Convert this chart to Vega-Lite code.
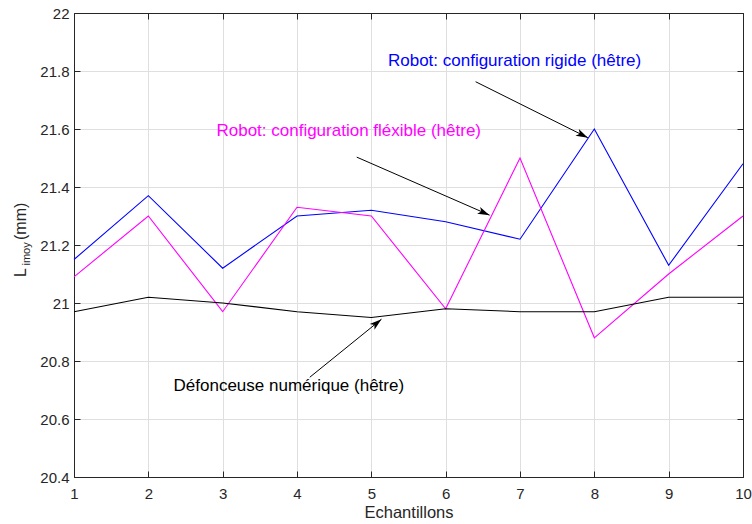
{
  "$schema": "https://vega.github.io/schema/vega-lite/v6.json",
  "width": 669,
  "height": 464,
  "autosize": "none",
  "padding": {"left": 74, "top": 13, "right": 9, "bottom": 47},
  "background": "#ffffff",
  "config": {
    "view": {"stroke": "#262626", "strokeWidth": 1},
    "font": "Liberation Sans",
    "axis": {
      "domainColor": "#262626",
      "tickColor": "#262626",
      "labelColor": "#262626",
      "titleColor": "#262626",
      "labelFont": "Liberation Sans",
      "titleFont": "Liberation Sans",
      "labelFontSize": 15,
      "titleFontSize": 16.5,
      "titleFontWeight": "normal",
      "gridColor": "#dfdfdf",
      "gridWidth": 1,
      "tickSize": -6,
      "tickWidth": 1,
      "labelFlush": false
    }
  },
  "datasets": {
    "series": [
      {"x": 1, "y": 21.15, "s": "rigide"}, {"x": 2, "y": 21.37, "s": "rigide"}, {"x": 3, "y": 21.12, "s": "rigide"}, {"x": 4, "y": 21.30, "s": "rigide"}, {"x": 5, "y": 21.32, "s": "rigide"},
      {"x": 6, "y": 21.28, "s": "rigide"}, {"x": 7, "y": 21.22, "s": "rigide"}, {"x": 8, "y": 21.60, "s": "rigide"}, {"x": 9, "y": 21.13, "s": "rigide"}, {"x": 10, "y": 21.48, "s": "rigide"},
      {"x": 1, "y": 21.09, "s": "flexible"}, {"x": 2, "y": 21.30, "s": "flexible"}, {"x": 3, "y": 20.97, "s": "flexible"}, {"x": 4, "y": 21.33, "s": "flexible"}, {"x": 5, "y": 21.30, "s": "flexible"},
      {"x": 6, "y": 20.98, "s": "flexible"}, {"x": 7, "y": 21.50, "s": "flexible"}, {"x": 8, "y": 20.88, "s": "flexible"}, {"x": 9, "y": 21.10, "s": "flexible"}, {"x": 10, "y": 21.30, "s": "flexible"},
      {"x": 1, "y": 20.97, "s": "defonceuse"}, {"x": 2, "y": 21.02, "s": "defonceuse"}, {"x": 3, "y": 21.00, "s": "defonceuse"}, {"x": 4, "y": 20.97, "s": "defonceuse"}, {"x": 5, "y": 20.95, "s": "defonceuse"},
      {"x": 6, "y": 20.98, "s": "defonceuse"}, {"x": 7, "y": 20.97, "s": "defonceuse"}, {"x": 8, "y": 20.97, "s": "defonceuse"}, {"x": 9, "y": 21.02, "s": "defonceuse"}, {"x": 10, "y": 21.02, "s": "defonceuse"}
    ],
    "arrows": [
      {"id": "rigide", "x1": 6.403, "y1": 21.763, "x2": 7.913, "y2": 21.570},
      {"id": "flexible", "x1": 4.804, "y1": 21.503, "x2": 6.591, "y2": 21.303},
      {"id": "defonceuse", "x1": 4.172, "y1": 20.744, "x2": 5.136, "y2": 20.944}
    ],
    "labels": [
      {"s": "rigide", "x": 6.927, "y": 21.834, "text": "Robot: configuration rigide (hêtre)"},
      {"s": "flexible", "x": 4.696, "y": 21.593, "text": "Robot: configuration fléxible (hêtre)"},
      {"s": "defonceuse", "x": 3.890, "y": 20.714, "text": "Défonceuse numérique (hêtre)"}
    ]
  },
  "resolve": {"axis": {"x": "independent", "y": "independent"}},
  "layer": [
    {
      "data": {"name": "series"},
      "mark": {"type": "line", "strokeWidth": 1.1},
      "encoding": {
        "x": {"field": "x", "type": "quantitative", "scale": {"domain": [1, 10], "nice": false},
              "axis": {"values": [1,2,3,4,5,6,7,8,9,10], "title": "Echantillons", "labelPadding": 15, "titlePadding": 3, "grid": true}},
        "y": {"field": "y", "type": "quantitative", "scale": {"domain": [20.4, 22], "nice": false, "zero": false},
              "axis": {"values": [20.4,20.6,20.8,21,21.2,21.4,21.6,21.8,22], "format": "~g", "title": null, "labelPadding": 11, "grid": true}},
        "color": {"field": "s", "type": "nominal", "legend": null,
                  "scale": {"domain": ["rigide", "flexible", "defonceuse"], "range": ["#0000ff", "#ff00ff", "#000000"]}},
        "detail": {"field": "s"}
      }
    },
    {
      "data": {"name": "arrows"},
      "mark": {"type": "rule", "color": "#000000", "strokeWidth": 1},
      "encoding": {
        "x": {"field": "x1", "type": "quantitative", "axis": {"orient": "top", "labels": false, "title": null, "grid": false, "values": [1,2,3,4,5,6,7,8,9,10]}},
        "y": {"field": "y1", "type": "quantitative", "axis": {"orient": "right", "labels": false, "title": null, "grid": false, "values": [20.4,20.6,20.8,21,21.2,21.4,21.6,21.8,22]}},
        "x2": {"field": "x2"},
        "y2": {"field": "y2"}
      }
    },
    {
      "data": {"name": "arrows"},
      "transform": [{"filter": "datum.id == 'rigide'"}],
      "mark": {"type": "point", "shape": "M0,0L-0.75,2.4L0,1.8L0.75,2.4Z", "size": 100, "filled": true, "color": "#000000", "opacity": 1, "angle": 116.5},
      "encoding": {
        "x": {"field": "x2", "type": "quantitative", "axis": null},
        "y": {"field": "y2", "type": "quantitative", "axis": null}
      }
    },
    {
      "data": {"name": "arrows"},
      "transform": [{"filter": "datum.id == 'flexible'"}],
      "mark": {"type": "point", "shape": "M0,0L-0.75,2.4L0,1.8L0.75,2.4Z", "size": 100, "filled": true, "color": "#000000", "opacity": 1, "angle": 113.6},
      "encoding": {
        "x": {"field": "x2", "type": "quantitative", "axis": null},
        "y": {"field": "y2", "type": "quantitative", "axis": null}
      }
    },
    {
      "data": {"name": "arrows"},
      "transform": [{"filter": "datum.id == 'defonceuse'"}],
      "mark": {"type": "point", "shape": "M0,0L-0.75,2.4L0,1.8L0.75,2.4Z", "size": 100, "filled": true, "color": "#000000", "opacity": 1, "angle": 51},
      "encoding": {
        "x": {"field": "x2", "type": "quantitative", "axis": null},
        "y": {"field": "y2", "type": "quantitative", "axis": null}
      }
    },
    {
      "data": {"name": "labels"},
      "mark": {"type": "text", "fontSize": 17, "font": "Liberation Sans", "align": "center", "baseline": "middle"},
      "encoding": {
        "x": {"field": "x", "type": "quantitative", "axis": null},
        "y": {"field": "y", "type": "quantitative", "axis": null},
        "text": {"field": "text"},
        "color": {"field": "s", "type": "nominal", "legend": null}
      }
    },
    {
      "data": {"values": [{"t": "L"}]},
      "mark": {"type": "text", "fontSize": 16, "font": "Liberation Sans", "angle": 270, "align": "left", "baseline": "alphabetic", "color": "#262626"},
      "encoding": {
        "x": {"datum": 0.348, "type": "quantitative", "axis": null},
        "y": {"datum": 21.0897, "type": "quantitative", "axis": null},
        "text": {"field": "t"}
      }
    },
    {
      "data": {"values": [{"t": "imoy"}]},
      "mark": {"type": "text", "fontSize": 11, "font": "Liberation Sans", "angle": 270, "align": "left", "baseline": "alphabetic", "color": "#262626"},
      "encoding": {
        "x": {"datum": 0.409, "type": "quantitative", "axis": null},
        "y": {"datum": 21.1293, "type": "quantitative", "axis": null},
        "text": {"field": "t"}
      }
    },
    {
      "data": {"values": [{"t": "(mm)"}]},
      "mark": {"type": "text", "fontSize": 16, "font": "Liberation Sans", "angle": 270, "align": "left", "baseline": "alphabetic", "color": "#262626"},
      "encoding": {
        "x": {"datum": 0.348, "type": "quantitative", "axis": null},
        "y": {"datum": 21.2172, "type": "quantitative", "axis": null},
        "text": {"field": "t"}
      }
    }
  ]
}
